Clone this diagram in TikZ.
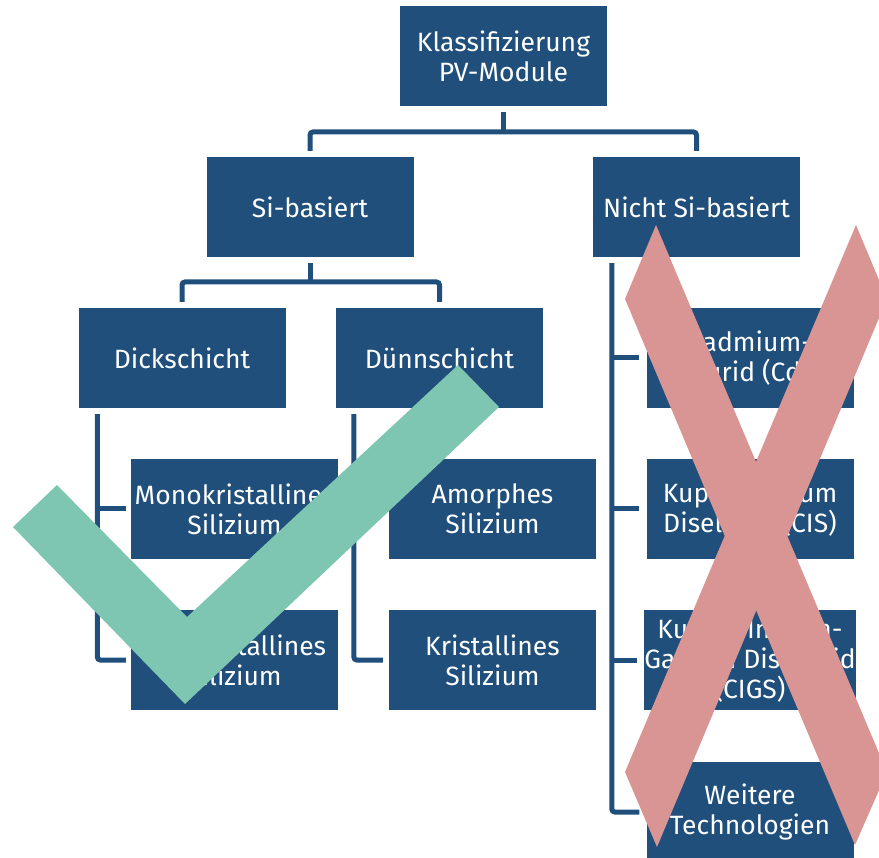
\documentclass[tikz,border=0pt]{standalone}
\usepackage{fontspec}
\setmainfont{Fira Sans}
\definecolor{boxblue}{RGB}{31,79,122}
\definecolor{checkgreen}{RGB}{127,198,178}
\definecolor{crossred}{RGB}{217,149,148}
\tikzset{
  box/.style={fill=boxblue, draw=none, text=white, minimum width=207pt, minimum height=100pt,
    inner sep=0pt, align=center, font=\fontsize{26.5}{30}\selectfont},
  conn/.style={draw=boxblue, line width=5pt, rounded corners=3pt}
}
\begin{document}
\begin{tikzpicture}[x=1pt,y=-1pt]
\useasboundingbox (0,0) rectangle (879,858);
% boxes
\node[box] (top) at (503.5,56) {Klassifizierung\\PV-Module};
\node[box] (si) at (310,207) {Si-basiert};
\node[box] (nsi) at (696.5,207) {Nicht Si-basiert};
\node[box] (dick) at (182,358) {Dickschicht};
\node[box] (duenn) at (439.5,358) {Dünnschicht};
\node[box] (mono) at (234.5,509) {Monokristallines\\Silizium};
\node[box] (poly) at (234.5,660) {Polykristallines\\Silizium};
\node[box] (amorph) at (492.5,509) {Amorphes\\Silizium};
\node[box] (krist) at (492.5,660) {Kristallines\\Silizium};
\node[box] (cdte) at (750,358) {Cadmium-\\Tellurid (CdTe)};
\node[box] (cis) at (750,509) {Kupfer-Indium\\Diselenid (CIS)};
\node[box] (cigs) at (750,660) {Kupfer-Indium-\\Gallium Diselenid\\(CIGS)};
\node[box] (weit) at (750,812) {Weitere\\Technologien};
% junctions
\coordinate (j1) at (503.5,132);
\coordinate (j2) at (310,282);
\coordinate (b1) at ([xshift=19pt,yshift=-6pt]dick.south west);
\coordinate (b2) at ([xshift=18pt,yshift=-6pt]duenn.south west);
\coordinate (b3) at ([xshift=19pt,yshift=-6pt]nsi.south west);
% connectors
\draw[conn] ([yshift=-6pt]top.south) -- (j1);
\draw[conn] ([yshift=6pt]si.north) |- (j1) -| ([yshift=6pt]nsi.north);
\draw[conn] ([yshift=-6pt]si.south) -- (j2);
\draw[conn] ([yshift=6pt]dick.north) |- (j2) -| ([yshift=6pt]duenn.north);
\draw[conn] (b1) |- ([xshift=-5pt]poly.west);
\draw[conn] (b1 |- mono.west) -- ([xshift=-5pt]mono.west);
\draw[conn] (b2) |- ([xshift=-6pt]krist.west);
\draw[conn] (b2 |- amorph.west) -- ([xshift=-6pt]amorph.west);
\draw[conn] (b3) |- ([xshift=-7pt]weit.west);
\draw[conn] (b3 |- cdte.west) -- ([xshift=-7pt]cdte.west);
\draw[conn] (b3 |- cis.west) -- ([xshift=-7pt]cis.west);
\draw[conn] (b3 |- cigs.west) -- ([xshift=-7pt]cigs.west);
% check mark
\fill[checkgreen] (57,485) -- (187,617) -- (458,365) -- (499,407) -- (185,704) -- (13,527) -- cycle;
% cross
\fill[crossred] (656,225) -- (887,772) -- (855,845) -- (625,299) -- cycle;
\fill[crossred] (856,225) -- (887,299) -- (657,847) -- (625,772) -- cycle;
\end{tikzpicture}
\end{document}
